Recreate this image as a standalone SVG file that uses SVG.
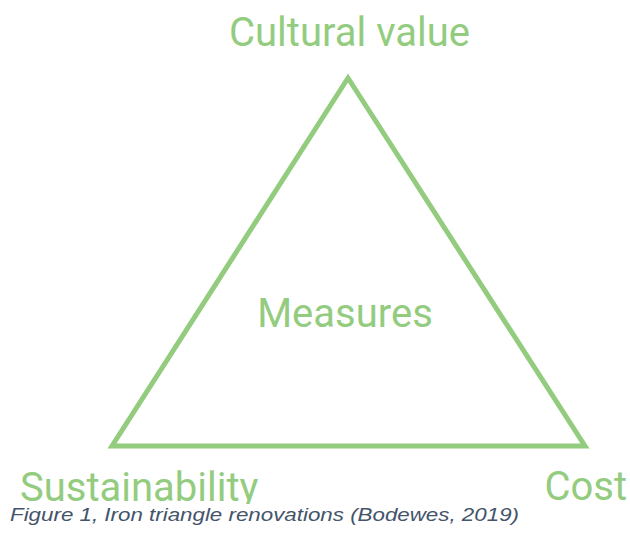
<svg xmlns="http://www.w3.org/2000/svg" width="630" height="534" viewBox="0 0 630 534">
  <style>
    .lbl { font-family: Roboto, "Liberation Sans", sans-serif; font-size: 40px; fill: #93cc7f; }
    .edge { fill: none; stroke: #93cc7f; stroke-width: 5; stroke-linejoin: miter; }
    .cap { font-family: "Liberation Sans", sans-serif; font-style: italic; font-size: 19px; fill: #44546a; }
  </style>
  <rect width="630" height="534" fill="#ffffff"/>
  <g id="connectors">
    <polygon class="edge" points="348,78 112,446 585,446"/>
  </g>
  <g id="node-cultural-value">
    <text class="lbl" x="349.5" y="46" text-anchor="middle">Cultural value</text>
  </g>
  <g id="node-measures">
    <text class="lbl" x="345" y="327" text-anchor="middle">Measures</text>
  </g>
  <g id="node-sustainability">
    <text class="lbl" x="20" y="501">Sustainability</text>
  </g>
  <g id="node-cost">
    <text class="lbl" x="627" y="500" text-anchor="end">Cost</text>
  </g>
  <g id="caption">
    <!-- caption band sits on top of the labels above it -->
    <rect x="0" y="504" width="540" height="30" fill="#ffffff"/>
    <text class="cap" x="10" y="521" textLength="509" lengthAdjust="spacingAndGlyphs">Figure 1, Iron triangle renovations (Bodewes, 2019)</text>
  </g>
</svg>
